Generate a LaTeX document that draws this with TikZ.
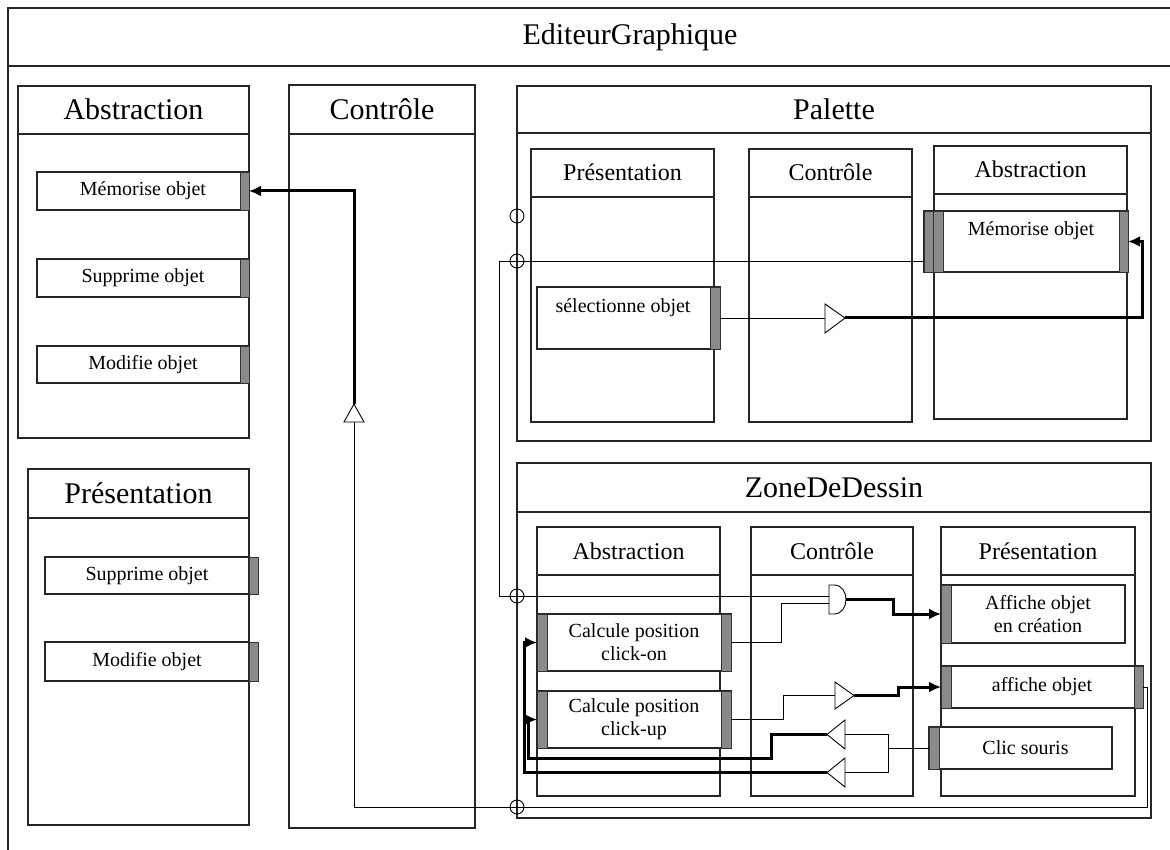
\documentclass[tikz,border=0pt]{standalone}
\usepackage{fontspec}
\setmainfont{Liberation Serif}
\usetikzlibrary{arrows.meta,calc}
\definecolor{tabgray}{HTML}{8A8A8A}
\newcommand{\bigtxt}{\fontsize{30}{34}\selectfont}
\newcommand{\subtxt}{\fontsize{24}{28}\selectfont}
\newcommand{\comptxt}{\fontsize{20}{23}\selectfont}
\tikzset{
  frame/.style={draw=black!85,line width=1.1pt},
  pane/.style={draw=black!85,line width=1.1pt,inner sep=0pt,outer sep=0pt,anchor=north west},
  hdr/.style={font=\bigtxt,text height=20pt,text depth=0pt},
  sub/.style={font=\subtxt,text height=16pt,text depth=0pt},
  comp/.style={draw=black!85,line width=1.1pt,fill=white,inner sep=0pt,outer sep=0pt,anchor=north west,font=\comptxt,align=center},
  tabr/.style={draw=black!80,line width=0.8pt,fill=tabgray,inner sep=0pt,outer sep=0pt,anchor=north west},
  port/.style={circle,draw,line width=0.9pt,inner sep=0pt,minimum width=13pt,minimum height=14pt},
  wire/.style={line width=0.9pt},
  bus/.style={line width=3pt,-{Latex[length=12pt,width=11pt]}},
  gate/.style={draw,line width=0.9pt,fill=white}
}
\begin{document}
\begin{tikzpicture}[x=1pt,y=-1pt]
\useasboundingbox (0,0) rectangle (1170,850);
\clip (0,0) rectangle (1170,850);
% cadre
\draw[frame] (8,870) -- (8,8) -- (1190,8);
\draw[frame] (8,66) -- (1190,66);
\node[hdr] (titre) at (630,35) {EditeurGraphique};
% partie gauche
\node[pane,hdr,minimum width=231,minimum height=48] (absH) at (18,86) {Abstraction};
\node[pane,minimum width=231,minimum height=304] (absB) at (absH.south west) {};
\node[pane,hdr,minimum width=221,minimum height=49] (preH) at (28,469) {Présentation};
\node[pane,minimum width=221,minimum height=307] (preB) at (preH.south west) {};
\node[pane,hdr,minimum width=186,minimum height=49] (ctlH) at (289,85) {Contrôle};
\node[pane,minimum width=186,minimum height=694] (ctlB) at (ctlH.south west) {};
\foreach \n/\y/\h/\t in {memL/172/38/Mémorise objet,supL/259/38/Supprime objet,modL/346/37/Modifie objet}{
  \node[comp,minimum width=212,minimum height=\h] (\n) at (37,\y) {\t};
  \node[tabr,minimum width=9,minimum height=\h] (t\n) at (240,\y) {};
}
\foreach \n/\y/\h/\t in {supP/557/37/Supprime objet,modP/642/39/Modifie objet}{
  \node[comp,minimum width=204,minimum height=\h] (\n) at (45,\y) {\t};
  \node[tabr,minimum width=9,minimum height=\h] (t\n) at (249,\y) {};
}
% Palette
\node[pane,hdr,minimum width=634,minimum height=47] (palH) at (517,86) {Palette};
\node[pane,minimum width=634,minimum height=308] (palB) at (palH.south west) {};
\foreach \n/\x/\y/\w/\t in {palP/531/149/183/Présentation,palC/749/149/163/Contrôle,palA/934/146/193/Abstraction}{
  \node[pane,sub,minimum width=\w,minimum height=48] (h\n) at (\x,\y) {\t};
  \node[pane,minimum width=\w,minimum height=225] (b\n) at (h\n.south west) {};
}
\node[comp,minimum width=204,minimum height=61] (memP) at (924,211) {};
\node[tabr,minimum width=9,minimum height=61] (tmemP1) at (924,211) {};
\node[tabr,minimum width=10,minimum height=61] (tmemP2) at (933,211) {};
\node[tabr,minimum width=9,minimum height=61] (tmemP3) at (1119,211) {};
\node[font=\comptxt] (memPtxt) at (1031,231) {Mémorise objet};
\node[comp,minimum width=183,minimum height=62] (selP) at (537,287) {};
\node[tabr,minimum width=10,minimum height=62] (tselP) at (710,287) {};
\node[font=\comptxt] (selPtxt) at (623,308) {sélectionne objet};
% ZoneDeDessin
\node[pane,hdr,minimum width=634,minimum height=49] (zonH) at (517,463) {ZoneDeDessin};
\node[pane,minimum width=634,minimum height=306] (zonB) at (zonH.south west) {};
\foreach \n/\x/\w/\t in {zA/537/183/Abstraction,zC/751/162/Contrôle,zP/941/194/Présentation}{
  \node[pane,sub,minimum width=\w,minimum height=48] (h\n) at (\x,527) {\t};
  \node[pane,minimum width=\w,minimum height=221] (b\n) at (h\n.south west) {};
}
\node[comp,minimum width=194,minimum height=57] (clkOn) at (537,614) {Calcule position\\click-on};
\node[tabr,minimum width=10,minimum height=57] (tOnL) at (537,614) {};
\node[tabr,minimum width=10,minimum height=57] (tOnR) at (721,614) {};
\node[comp,minimum width=194,minimum height=57] (clkUp) at (537,691) {Calcule position\\click-up};
\node[tabr,minimum width=10,minimum height=57] (tUpL) at (537,691) {};
\node[tabr,minimum width=10,minimum height=57] (tUpR) at (721,691) {};
\node[comp,minimum width=184,minimum height=58] (affCre) at (941,585) {\hspace*{10pt}Affiche objet\\\hspace*{10pt}en création};
\node[tabr,minimum width=10,minimum height=58] (tCre) at (941,585) {};
\node[comp,minimum width=202,minimum height=42] (aff) at (941,666) {affiche objet};
\node[tabr,minimum width=10,minimum height=42] (tAffL) at (941,666) {};
\node[tabr,minimum width=9,minimum height=42] (tAffR) at (1134,666) {};
\node[comp,minimum width=183,minimum height=42] (clic) at (929,727) {\hspace*{10pt}Clic souris};
\node[tabr,minimum width=10,minimum height=42] (tClic) at (929,727) {};
% fils fins
\coordinate (jog) at (499,596);
\coordinate (andA) at (829,596);
\coordinate (andB) at (829,603);
\coordinate (andOut) at (846,599.5);
\coordinate (gPin) at (825,318);
\coordinate (gCin) at (354,422);
\coordinate (g3in) at (835,695.5);
\coordinate (g1in) at (845,734.5);
\coordinate (g2in) at (845,772.5);
\coordinate (loop) at (1147,807);
\draw[wire] (tmemP1.west |- 0,261) -| (jog) -- (andA);
\draw[wire] (tselP.east) -- (gPin);
\draw[wire] (tOnR.east) -- ++(50,0) |- (andB);
\draw[wire] (tUpR.east) -- ++(52,0) |- (g3in);
\draw[wire] (tClic.west) -- ++(-41,0) coordinate (fork);
\draw[wire] (g1in) -| (fork) |- (g2in);
\draw[wire] (tAffR.east) -| (loop) -| (gCin);
% fils epais
\coordinate (gCout) at (354,404);
\coordinate (gPout) at (845,318);
\coordinate (g3out) at (854,695.5);
\coordinate (g1out) at (827,734.5);
\coordinate (g2out) at (827,772.5);
\coordinate (b1) at (771,758);
\coordinate (b2) at (528,758);
\coordinate (b3) at (524,772.5);
\draw[bus] (gCout) |- (tmemL.east);
\draw[bus] (gPout) -- ++(297,0) |- (tmemP3.east);
\draw[bus] (andOut) -- ++(47,0) |- (tCre.west);
\draw[bus] (g3out) -- ++(44,0) |- (tAffL.west);
\draw[bus] (g1out) -| (b1) -- (b2) |- (tUpL.west);
\draw[bus] (g2out) -- (b3) |- (tOnL.west);
% portes
\draw[gate] (344,422) -- (gCout) -- (364,422) -- cycle;
\draw[gate] (825,304) -- (gPout) -- (825,333) -- cycle;
\draw[gate] (829,585) -- (834,585) .. controls (850,585) and (850,614) .. (834,614) -- (829,614) -- cycle;
\draw[gate] (835,682) -- (g3out) -- (835,709) -- cycle;
\draw[gate] (845,720) -- (g1out) -- (845,749) -- cycle;
\draw[gate] (845,758) -- (g2out) -- (845,787) -- cycle;
\foreach \y/\n in {216/p1,261/p2,596/p3,807/p4}
  \node[port] (\n) at (517,\y) {};
\end{tikzpicture}
\end{document}
